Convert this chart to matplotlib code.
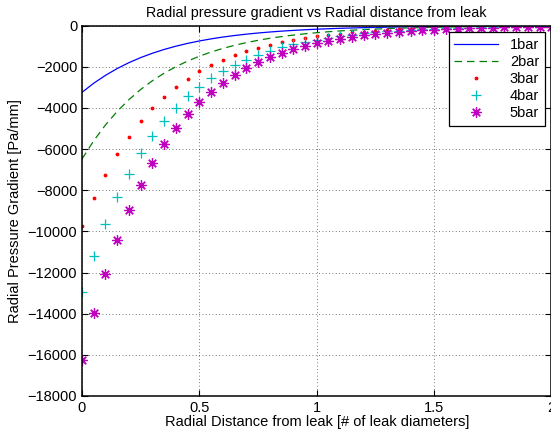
import matplotlib.pyplot as plt
import numpy as np

plt.rcParams['font.family'] = ['Liberation Sans', 'DejaVu Sans']

# radial distance from leak, in leak diameters
distance = [0.00, 0.05, 0.10, 0.15, 0.20, 0.25, 0.30, 0.35, 0.40, 0.45,
            0.50, 0.55, 0.60, 0.65, 0.70, 0.75, 0.80, 0.85, 0.90, 0.95,
            1.00, 1.05, 1.10, 1.15, 1.20, 1.25, 1.30, 1.35, 1.40, 1.45,
            1.50, 1.55, 1.60, 1.65, 1.70, 1.75, 1.80, 1.85, 1.90, 1.95, 2.00]

# pressure gradient [Pa/mm]
grad_1bar = [-3240, -2796, -2413, -2082, -1796, -1550, -1338, -1154, -996, -859,
             -742, -640, -552, -477, -411, -355, -306, -264, -228, -197,
             -170, -147, -126, -109, -94, -81, -70, -61, -52, -45,
             -39, -34, -29, -25, -22, -19, -16, -14, -12, -10, -9]
grad_2bar = [-6480, -5592, -4825, -4163, -3593, -3100, -2675, -2308, -1992, -1719,
             -1483, -1280, -1104, -953, -822, -710, -612, -528, -456, -393,
             -340, -293, -253, -218, -188, -162, -140, -121, -104, -90,
             -78, -67, -58, -50, -43, -37, -32, -28, -24, -21, -18]
grad_3bar = [-9720, -8387, -7238, -6245, -5389, -4650, -4013, -3462, -2988, -2578,
             -2225, -1920, -1657, -1430, -1234, -1064, -919, -793, -684, -590,
             -509, -440, -379, -327, -282, -244, -210, -182, -157, -135,
             -116, -101, -87, -75, -65, -56, -48, -41, -36, -31, -27]
grad_4bar = [-12960, -11183, -9650, -8327, -7185, -6200, -5350, -4616, -3984, -3438,
             -2966, -2560, -2209, -1906, -1645, -1419, -1225, -1057, -912, -787,
             -679, -586, -506, -436, -376, -325, -280, -242, -209, -180,
             -155, -134, -116, -100, -86, -74, -64, -55, -48, -41, -36]
grad_5bar = [-16250, -13979, -12063, -10409, -8982, -7750, -6688, -5770, -4980, -4297,
             -3708, -3200, -2761, -2383, -2056, -1774, -1531, -1321, -1140, -984,
             -849, -733, -632, -545, -470, -406, -350, -302, -261, -225,
             -194, -168, -145, -125, -108, -93, -80, -69, -60, -52, -45]
labels = ['1bar', '2bar', '3bar', '4bar', '5bar']

fig = plt.figure(figsize=(5.51, 4.38), dpi=100)
ax = fig.add_axes([0.1488, 0.0959, 0.852, 0.8454])

ax.plot(distance, grad_1bar, color='b', lw=0.9, label=labels[0])
ax.plot(distance, grad_2bar, color='g', lw=0.9, ls=(0, (6, 4)), label=labels[1])
ax.plot(distance, grad_3bar, 'r.', ms=3.5, label=labels[2])
ax.plot(distance, grad_4bar, 'c+', ms=7.5, mew=0.9, label=labels[3])
ax.plot(distance, grad_5bar, ls='none', marker=(8, 2, 0), color='m', ms=7.5, mew=0.9, label=labels[4])

ax.set_xlim(0, 2)
ax.set_ylim(-18000, 0)
ax.set_xticks([0, 0.5, 1, 1.5, 2])
ax.set_xticklabels(['0', '0.5', '1', '1.5', '2'])
ax.set_yticks(np.arange(-18000, 1, 2000))
ax.tick_params(direction='in', top=True, right=True, labelsize=10.5, length=4)
ax.grid(True, ls=(0, (1, 3)), color='k', lw=0.6, alpha=0.7)
for s in ax.spines.values():
    s.set_linewidth(1.1)

ax.set_title('Radial pressure gradient vs Radial distance from leak', fontsize=10.3)
ax.set_xlabel('Radial Distance from leak [# of leak diameters]', fontsize=10.5, labelpad=0)
ax.set_ylabel('Radial Pressure Gradient [Pa/mm]', fontsize=10.5)

leg = ax.legend(loc='upper right', fontsize=10.5, fancybox=False, framealpha=1,
                edgecolor='k', borderaxespad=0.45, handlelength=3, labelspacing=0.2)
leg.get_frame().set_linewidth(0.9)

fig.savefig('out.png', dpi=100)
